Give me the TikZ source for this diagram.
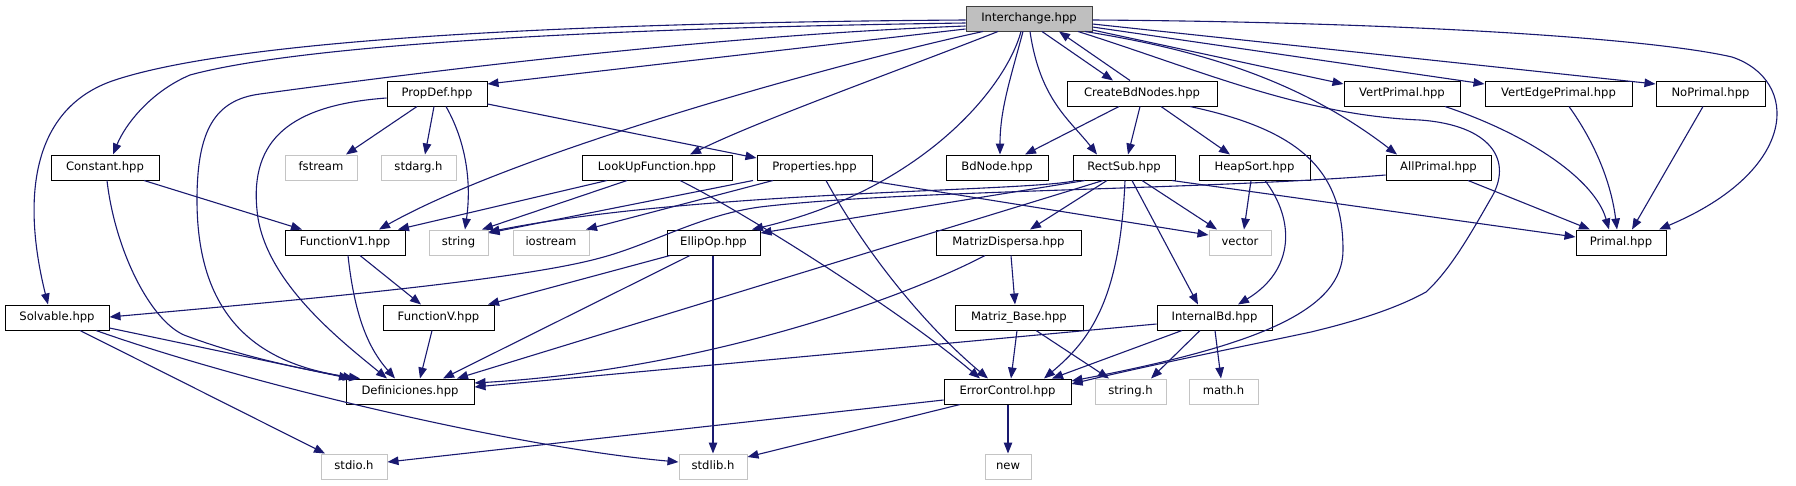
\documentclass[tikz,border=0pt]{standalone}
\usepackage{fontspec}
\setmainfont{DejaVu Sans}
\usetikzlibrary{arrows.meta}
\definecolor{edgeblue}{HTML}{191970}
\definecolor{syslines}{HTML}{C4C4C4}
\definecolor{mainfill}{HTML}{BFBFBF}
\definecolor{mainline}{HTML}{404040}
\begin{document}
\begin{tikzpicture}[x=1pt,y=-1pt,
  file/.style={draw=black, line width=1pt, minimum height=25pt, inner sep=0pt,
    font=\fontsize{11.6}{14}\selectfont, text height=9pt, text depth=2.6pt},
  sys/.style={file, draw=syslines},
  root/.style={file, fill=mainfill, draw=mainline},
  edge/.style={draw=edgeblue, line width=1.1pt, -{Triangle[length=11pt,width=8.5pt]}}]
\useasboundingbox (0,0) rectangle (1796,485);
\fill[white] (0,0) rectangle (1796,485);

\node[root, minimum width=126pt] (inter) at (1029,18.5) {Interchange.hpp};
\node[file, minimum width=100pt] (propdef) at (437,93.5) {PropDef.hpp};
\node[file, minimum width=150pt] (create) at (1142,93.5) {CreateBdNodes.hpp};
\node[file, minimum width=116pt] (vertp) at (1402,93.5) {VertPrimal.hpp};
\node[file, minimum width=147pt] (vertep) at (1558.5,93.5) {VertEdgePrimal.hpp};
\node[file, minimum width=109pt] (nop) at (1710.5,93.5) {NoPrimal.hpp};
\node[file, minimum width=108pt] (const) at (105,167.5) {Constant.hpp};
\node[sys, minimum width=72pt] (fstream) at (321,167.5) {fstream};
\node[sys, minimum width=75pt] (stdarg) at (418.5,167.5) {stdarg.h};
\node[file, minimum width=150pt] (lookup) at (657,167.5) {LookUpFunction.hpp};
\node[file, minimum width=115pt] (props) at (814.5,167.5) {Properties.hpp};
\node[file, minimum width=102pt] (bdnode) at (997,167.5) {BdNode.hpp};
\node[file, minimum width=102pt] (rectsub) at (1124,167.5) {RectSub.hpp};
\node[file, minimum width=111pt] (heapsort) at (1254.5,167.5) {HeapSort.hpp};
\node[file, minimum width=105pt] (allp) at (1438.5,167.5) {AllPrimal.hpp};
\node[file, minimum width=120pt] (fv1) at (345,242.5) {FunctionV1.hpp};
\node[sys, minimum width=59pt] (string) at (458.5,242.5) {string};
\node[sys, minimum width=76pt] (iostream) at (551,242.5) {iostream};
\node[file, minimum width=93pt] (ellip) at (713.5,242.5) {EllipOp.hpp};
\node[file, minimum width=145pt] (matrizd) at (1008.5,242.5) {MatrizDispersa.hpp};
\node[sys, minimum width=62pt] (vector) at (1240,242.5) {vector};
\node[file, minimum width=90pt] (primal) at (1621,242.5) {Primal.hpp};
\node[file, minimum width=104pt] (solv) at (57,317.5) {Solvable.hpp};
\node[file, minimum width=111pt] (fv) at (438.5,317.5) {FunctionV.hpp};
\node[file, minimum width=128pt] (matrizb) at (1019,317.5) {Matriz\_Base.hpp};
\node[file, minimum width=115pt] (internal) at (1214.5,317.5) {InternalBd.hpp};
\node[file, minimum width=128pt] (defs) at (410,391.5) {Definiciones.hpp};
\node[file, minimum width=127pt] (errc) at (1007.5,391.5) {ErrorControl.hpp};
\node[sys, minimum width=71pt] (stringh) at (1130.5,391.5) {string.h};
\node[sys, minimum width=69pt] (mathh) at (1223.5,391.5) {math.h};
\node[sys, minimum width=66pt] (stdio) at (354,466.5) {stdio.h};
\node[sys, minimum width=68pt] (stdlib) at (713,466.5) {stdlib.h};
\node[sys, minimum width=46pt] (new) at (1008,466.5) {new};

% Interchange.hpp
\draw[edge] (inter.west |- 0,20) .. controls (666,22) and (258,33) .. (115,80) .. controls (30,108) and (22,200) .. (solv.north -| 48,0);
\draw[edge] (inter.west |- 0,23) .. controls (600,28) and (300,45) .. (190,75) .. controls (150,92) and (125,125) .. (const.north -| 113,0);
\draw[edge] (inter.west |- 0,26) .. controls (700,36) and (400,75) .. (260,94) .. controls (215,100) and (197,130) .. (197,200) .. controls (197,320) and (260,365) .. (defs.north -| 360,0);
\draw[edge] (inter.west |- 0,29) -- (propdef.east |- 0,84);
\draw[edge] (inter.south -| 983,0) .. controls (850,60) and (520,150) .. (fv1.north -| 379,0);
\draw[edge] (inter.south -| 998,0) .. controls (900,70) and (760,120) .. (lookup.north -| 690,0);
\draw[edge] (inter.south -| 1021,0) .. controls (1005,90) and (920,190) .. (ellip.north -| 752,0);
\draw[edge] (inter.south -| 1023,0) .. controls (1010,80) and (1000,110) .. (bdnode.north -| 1000,0);
\draw[edge] (inter.south -| 1042,0) -- (create.north -| 1113,0);
\draw[edge] (inter.south -| 1030,0) .. controls (1040,100) and (1070,120) .. (rectsub.north -| 1097,0);
\draw[edge] (inter.east |- 0,20) .. controls (1400,22) and (1650,38) .. (1732,57) .. controls (1800,80) and (1800,170) .. (primal.north -| 1659,0);
\draw[edge] (inter.east |- 0,24) -- (nop.west |- 0,84);
\draw[edge] (inter.east |- 0,27) -- (vertep.west |- 0,84);
\draw[edge] (inter.east |- 0,30) -- (vertp.west |- 0,84);
\draw[edge] (inter.south -| 1085,0) .. controls (1200,50) and (1300,80) .. (allp.north -| 1397,0);
\draw[edge] (inter.south -| 1078,0) .. controls (1200,70) and (1300,115) .. (1420,120) .. controls (1490,125) and (1515,160) .. (1490,200) .. controls (1470,235) and (1450,270) .. (1426,292) .. controls (1390,312) and (1340,325) .. (1311,332) .. controls (1250,345) and (1150,365) .. (errc.east |- 0,384);

% CreateBdNodes.hpp
\draw[edge] (create.north -| 1130,0) -- (inter.south -| 1059,0);
\draw[edge] (create.south -| 1119,0) -- (bdnode.north -| 1025,0);
\draw[edge] (create.south -| 1140,0) -- (rectsub.north -| 1128,0);
\draw[edge] (create.south -| 1161,0) -- (heapsort.north -| 1230,0);
\draw[edge] (create.south -| 1190,0) .. controls (1300,130) and (1343,170) .. (1343,250) .. controls (1343,310) and (1260,345) .. (errc.east |- 0,381);

% PropDef.hpp
\draw[edge] (propdef.west |- 0,98) .. controls (290,105) and (250,140) .. (257,210) .. controls (263,280) and (340,340) .. (defs.north -| 387,0);
\draw[edge] (propdef.south -| 417,0) -- (fstream.north -| 346,0);
\draw[edge] (propdef.south -| 434,0) -- (stdarg.north -| 425,0);
\draw[edge] (propdef.south -| 446,0) .. controls (465,140) and (472,180) .. (string.north -| 465,0);
\draw[edge] (propdef.east |- 0,104) -- (props.west |- 0,158);

% Constant.hpp
\draw[edge] (const.south -| 144,0) -- (fv1.north -| 302,0);
\draw[edge] (const.south -| 107,0) .. controls (115,250) and (150,320) .. (184,335) .. controls (250,360) and (320,372) .. (defs.north -| 354,0);

% LookUpFunction.hpp
\draw[edge] (lookup.south -| 607,0) -- (fv1.north -| 398,0);
\draw[edge] (lookup.south -| 627,0) -- (string.north -| 482,0);
\draw[edge] (lookup.south -| 680,0) .. controls (740,210) and (900,310) .. (errc.north -| 980,0);

% Properties.hpp
\draw[edge] (props.south -| 753,0) -- (string.east |- 0,233);
\draw[edge] (props.south -| 773,0) -- (iostream.north -| 586,0);
\draw[edge] (props.south -| 826,0) .. controls (870,260) and (930,330) .. (errc.north -| 988,0);
\draw[edge] (props.south -| 868,0) -- (vector.west |- 0,235);

% RectSub.hpp
\draw[edge] (rectsub.south -| 1076,0) .. controls (1030,192) and (700,190) .. (string.east |- 0,232);
\draw[edge] (rectsub.south -| 1085,0) -- (ellip.east |- 0,233);
\draw[edge] (rectsub.south -| 1103,0) -- (defs.north -| 457,0);
\draw[edge] (rectsub.south -| 1107,0) -- (matrizd.north -| 1030,0);
\draw[edge] (rectsub.south -| 1125,0) .. controls (1120,300) and (1090,340) .. (errc.north -| 1044,0);
\draw[edge] (rectsub.south -| 1132,0) -- (internal.north -| 1198,0);
\draw[edge] (rectsub.south -| 1142,0) -- (vector.north -| 1217,0);
\draw[edge] (rectsub.south -| 1172,0) -- (primal.west |- 0,237);

% AllPrimal.hpp
\draw[edge] (allp.west |- 0,175) .. controls (1200,190) and (900,190) .. (760,207) .. controls (700,215) and (650,245) .. (600,258) .. controls (520,280) and (300,300) .. (solv.east |- 0,317);
\draw[edge] (allp.south -| 1468,0) -- (primal.north -| 1590,0);

% HeapSort.hpp
\draw[edge] (heapsort.south -| 1251,0) -- (vector.north -| 1244,0);
\draw[edge] (heapsort.south -| 1265,0) .. controls (1295,220) and (1295,270) .. (internal.north -| 1238,0);

% Primal sources
\draw[edge] (vertp.south -| 1445,0) .. controls (1530,135) and (1595,180) .. (primal.north -| 1609,0);
\draw[edge] (vertep.south -| 1569,0) .. controls (1600,150) and (1612,190) .. (primal.north -| 1617,0);
\draw[edge] (nop.south -| 1703,0) -- (primal.north -| 1632,0);

% FunctionV1.hpp, EllipOp.hpp, FunctionV.hpp
\draw[edge] (fv1.south -| 360,0) -- (fv.north -| 421,0);
\draw[edge] (fv1.south -| 348,0) .. controls (355,320) and (370,350) .. (defs.north -| 395,0);
\draw[edge] (ellip.south -| 670,0) -- (fv.north -| 488,0);
\draw[edge] (ellip.south -| 690,0) -- (defs.north -| 443,0);
\draw[edge] (ellip.south -| 713,0) -- (stdlib.north -| 713,0);
\draw[edge] (fv.south -| 432,0) -- (defs.north -| 420,0);

% MatrizDispersa.hpp, Matriz_Base.hpp, InternalBd.hpp
\draw[edge] (matrizd.south -| 1011,0) -- (matrizb.north -| 1015,0);
\draw[edge] (matrizd.south -| 985,0) .. controls (900,300) and (700,370) .. (defs.east |- 0,383);
\draw[edge] (matrizb.south -| 1017,0) -- (errc.north -| 1011,0);
\draw[edge] (matrizb.south -| 1036,0) -- (stringh.north -| 1109,0);
\draw[edge] (internal.west |- 0,324) -- (defs.east |- 0,387);
\draw[edge] (internal.south -| 1182,0) -- (errc.north -| 1052,0);
\draw[edge] (internal.south -| 1200,0) -- (stringh.north -| 1151,0);
\draw[edge] (internal.south -| 1215,0) -- (mathh.north -| 1221,0);

% ErrorControl.hpp
\draw[edge] (errc.west |- 0,400) -- (stdio.east |- 0,462);
\draw[edge] (errc.south -| 960,0) -- (stdlib.east |- 0,457);
\draw[edge] (errc.south -| 1008,0) -- (new.north -| 1008,0);

% Solvable.hpp
\draw[edge] (solv.east |- 0,328) -- (defs.north -| 350,0);
\draw[edge] (solv.south -| 96,0) .. controls (250,385) and (520,448) .. (stdlib.west |- 0,462);
\draw[edge] (solv.south -| 80,0) -- (stdio.north -| 325,0);
\end{tikzpicture}
\end{document}
